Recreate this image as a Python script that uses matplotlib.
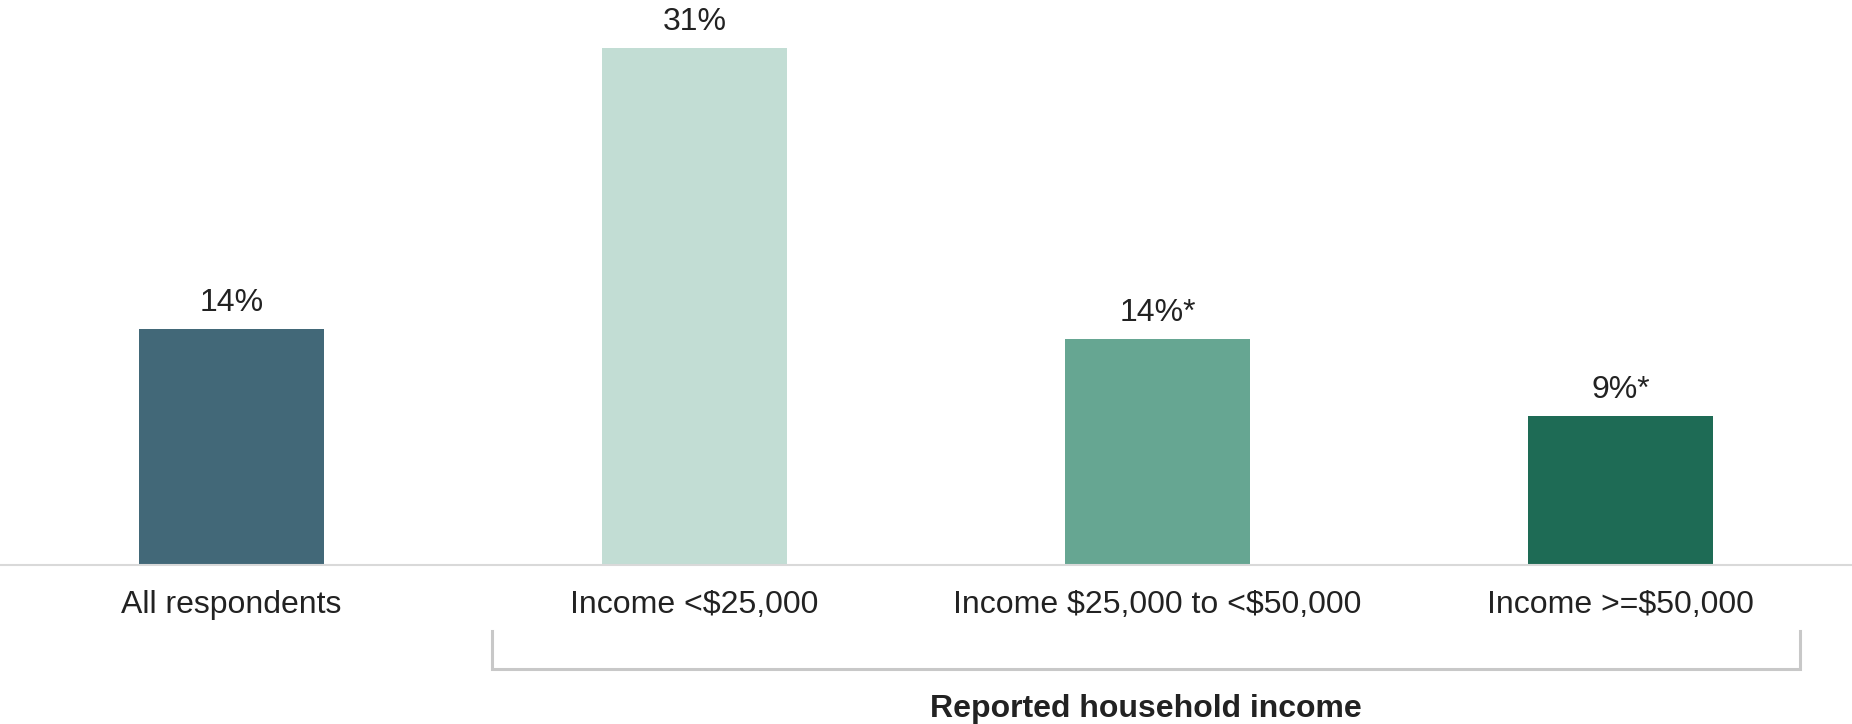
import matplotlib.pyplot as plt
import matplotlib.transforms as mtransforms

plt.rcParams['font.family'] = ['Liberation Sans', 'DejaVu Sans']
plt.rcParams['text.parse_math'] = False

# Data
categories = ['All respondents', 'Income <$25,000', 'Income $25,000 to <$50,000', 'Income >=$50,000']
values = [14.1, 30.9, 13.5, 8.9]
value_labels = ['14%', '31%', '14%*', '9%*']
colors = ['#426878', '#c2ddd4', '#66a692', '#1e6b55']
group_label = 'Reported household income'
group_span = [0.563, 3.387]

fig = plt.figure(figsize=(18.52, 7.24), dpi=100)
ax = fig.add_axes([0, 159 / 724, 1, 565 / 724])

x = list(range(len(categories)))
bars = ax.bar(x, values, width=0.40, color=colors)

for bar, lab in zip(bars, value_labels):
    ax.annotate(lab, (bar.get_x() + bar.get_width() / 2, bar.get_height()),
                xytext=(0, 8), textcoords='offset points',
                ha='center', va='bottom', fontsize=23, color='#222222')

ax.set_xlim(-0.5, 3.5)
ax.set_ylim(0, 33.8)
ax.set_xticks(x)
ax.set_xticklabels(categories, fontsize=23, color='#222222')
ax.tick_params(axis='x', length=0, pad=18)
ax.set_yticks([])
for s in ['top', 'left', 'right']:
    ax.spines[s].set_visible(False)
ax.spines['bottom'].set_color('#d9d9d9')
ax.spines['bottom'].set_linewidth(1.5)

# bracket under the income groups
trans = mtransforms.blended_transform_factory(ax.transData, ax.transAxes)
y_top, y_bot = -0.117, -0.184
ax.plot([group_span[0], group_span[0], group_span[1], group_span[1]],
        [y_top, y_bot, y_bot, y_top], transform=trans, color='#c8c8c8',
        linewidth=2.2, clip_on=False, solid_joinstyle='miter')
ax.text(sum(group_span) / 2, -0.254, group_label, transform=trans,
        ha='center', va='center', fontsize=23, fontweight='bold', color='#222222')

fig.savefig('out.png', dpi=100)
